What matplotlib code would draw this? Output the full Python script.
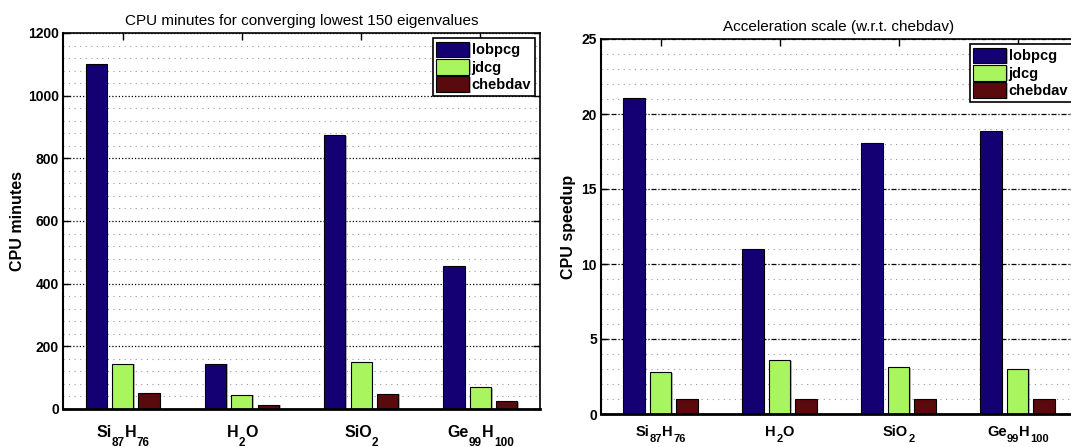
import numpy as np
import matplotlib
matplotlib.use("Agg")
import matplotlib.pyplot as plt
from matplotlib.ticker import MultipleLocator
from matplotlib.font_manager import FontProperties
import matplotlib.patheffects as pe

plt.rcParams['font.family'] = ['Liberation Sans', 'DejaVu Sans']

# category labels as (text, is_subscript) pieces
categories = [
    [('Si', False), ('87', True), ('H', False), ('76', True)],
    [('H', False), ('2', True), ('O', False)],
    [('SiO', False), ('2', True)],
    [('Ge', False), ('99', True), ('H', False), ('100', True)],
]
series_names = ['lobpcg', 'jdcg', 'chebdav']
colors = ['#140073', '#A8F560', '#5A0A0C']

cpu_lobpcg = [1102, 145, 873, 457]
cpu_jdcg = [145, 46, 151, 71]
cpu_chebdav = [52, 14, 49, 24]

speed_lobpcg = [21.1, 11.0, 18.05, 18.85]
speed_jdcg = [2.78, 3.58, 3.11, 2.98]
speed_chebdav = [1.0, 1.0, 1.0, 1.0]

W, H = 1071, 447
fig = plt.figure(figsize=(W / 100, H / 100), dpi=100)

ax1 = fig.add_axes([63 / W, (H - 409) / H, 477 / W, 376 / H])
ax2 = fig.add_axes([601 / W, (H - 414) / H, 476 / W, 375 / H])

x = np.arange(1, len(categories) + 1)
offs = [-0.222, 0.0, 0.222]
bw = 0.178

renderer = fig.canvas.get_renderer()


def label_pieces(ax, main_size, sub_size, main_dy, sub_dy):
    main_fp = FontProperties(family='Liberation Sans', weight='bold', size=main_size)
    sub_fp = FontProperties(family='Liberation Sans', weight='bold', size=sub_size)
    for xi, pieces in zip(x, categories):
        widths = []
        for s, sub in pieces:
            fp = sub_fp if sub else main_fp
            w, h, d = renderer.get_text_width_height_descent(s, fp, ismath=False)
            widths.append(w)
        total = sum(widths)
        cur = -total / 2.0
        for (s, sub), w in zip(pieces, widths):
            fp = sub_fp if sub else main_fp
            dy = sub_dy if sub else main_dy
            ax.annotate(s, xy=(xi, 0), xycoords=ax.get_xaxis_transform(),
                        xytext=(cur, dy), textcoords='offset pixels',
                        ha='left', va='baseline', fontproperties=fp,
                        annotation_clip=False)
            cur += w + (0.3 if not sub else 0.0)


def draw(ax, data, ymax, major, minor, major_ls, title, ylabel, labelpad, lab_args):
    shadow = [pe.SimplePatchShadow(offset=(1.2, -0.6), shadow_rgbFace='#888888', alpha=0.6), pe.Normal()]
    for i, vals in enumerate(data):
        bars = ax.bar(x + offs[i], vals, width=bw, color=colors[i], edgecolor='black',
                      linewidth=0.8, label=series_names[i], zorder=3)
        for b in bars:
            b.set_path_effects(shadow)
    ax.set_xlim(0.5, 4.5)
    ax.set_ylim(0, ymax)
    ax.set_xticks(x)
    ax.set_xticklabels([''] * len(x))
    label_pieces(ax, *lab_args)
    ax.yaxis.set_major_locator(MultipleLocator(major))
    ax.yaxis.set_minor_locator(MultipleLocator(minor))
    for lab in ax.get_yticklabels():
        lab.set_fontweight('bold')
    ax.tick_params(axis='y', which='major', direction='in', length=5, width=1,
                   left=True, right=True, labelsize=10, pad=3)
    ax.tick_params(axis='y', which='minor', left=False, right=False)
    ax.tick_params(axis='x', which='major', direction='in', length=5, width=1,
                   top=True, bottom=True)
    ax.grid(True, axis='y', which='major', color='black', linestyle=major_ls, linewidth=0.9, zorder=1)
    ax.grid(True, axis='y', which='minor', color='#999999', linestyle=(0, (1, 4)), linewidth=0.8, zorder=1)
    ax.set_axisbelow(True)
    for s in ax.spines.values():
        s.set_linewidth(1.2)
        s.set_zorder(5)
    ax.spines['bottom'].set_linewidth(2.0)
    ax.spines['left'].set_linewidth(1.5)
    ax.set_title(title, fontsize=11, pad=6)
    ax.set_ylabel(ylabel, fontsize=11.5, fontweight='bold', labelpad=labelpad)
    leg = ax.legend(loc='upper right', prop={'weight': 'bold', 'size': 10.5},
                    handlelength=2.26, handleheight=1.25, handletextpad=0.18,
                    labelspacing=0.12, borderpad=0.25, borderaxespad=0.35,
                    fancybox=False, framealpha=1, edgecolor='black')
    leg.get_frame().set_linewidth(1.2)
    leg.set_zorder(6)


draw(ax1, [cpu_lobpcg, cpu_jdcg, cpu_chebdav], 1200, 200, 40, (0, (1, 1.6)),
     'CPU minutes for converging lowest 150 eigenvalues', 'CPU minutes', 2,
     (11.5, 8.5, -27.7, -37.0))
draw(ax2, [speed_lobpcg, speed_jdcg, speed_chebdav], 25, 5, 1, (0, (4, 1.5, 1, 1.5)),
     'Acceleration scale (w.r.t. chebdav)', 'CPU speedup', 4,
     (10.5, 8.0, -21.7, -28.5))

fig.savefig('out.png', dpi=100)
